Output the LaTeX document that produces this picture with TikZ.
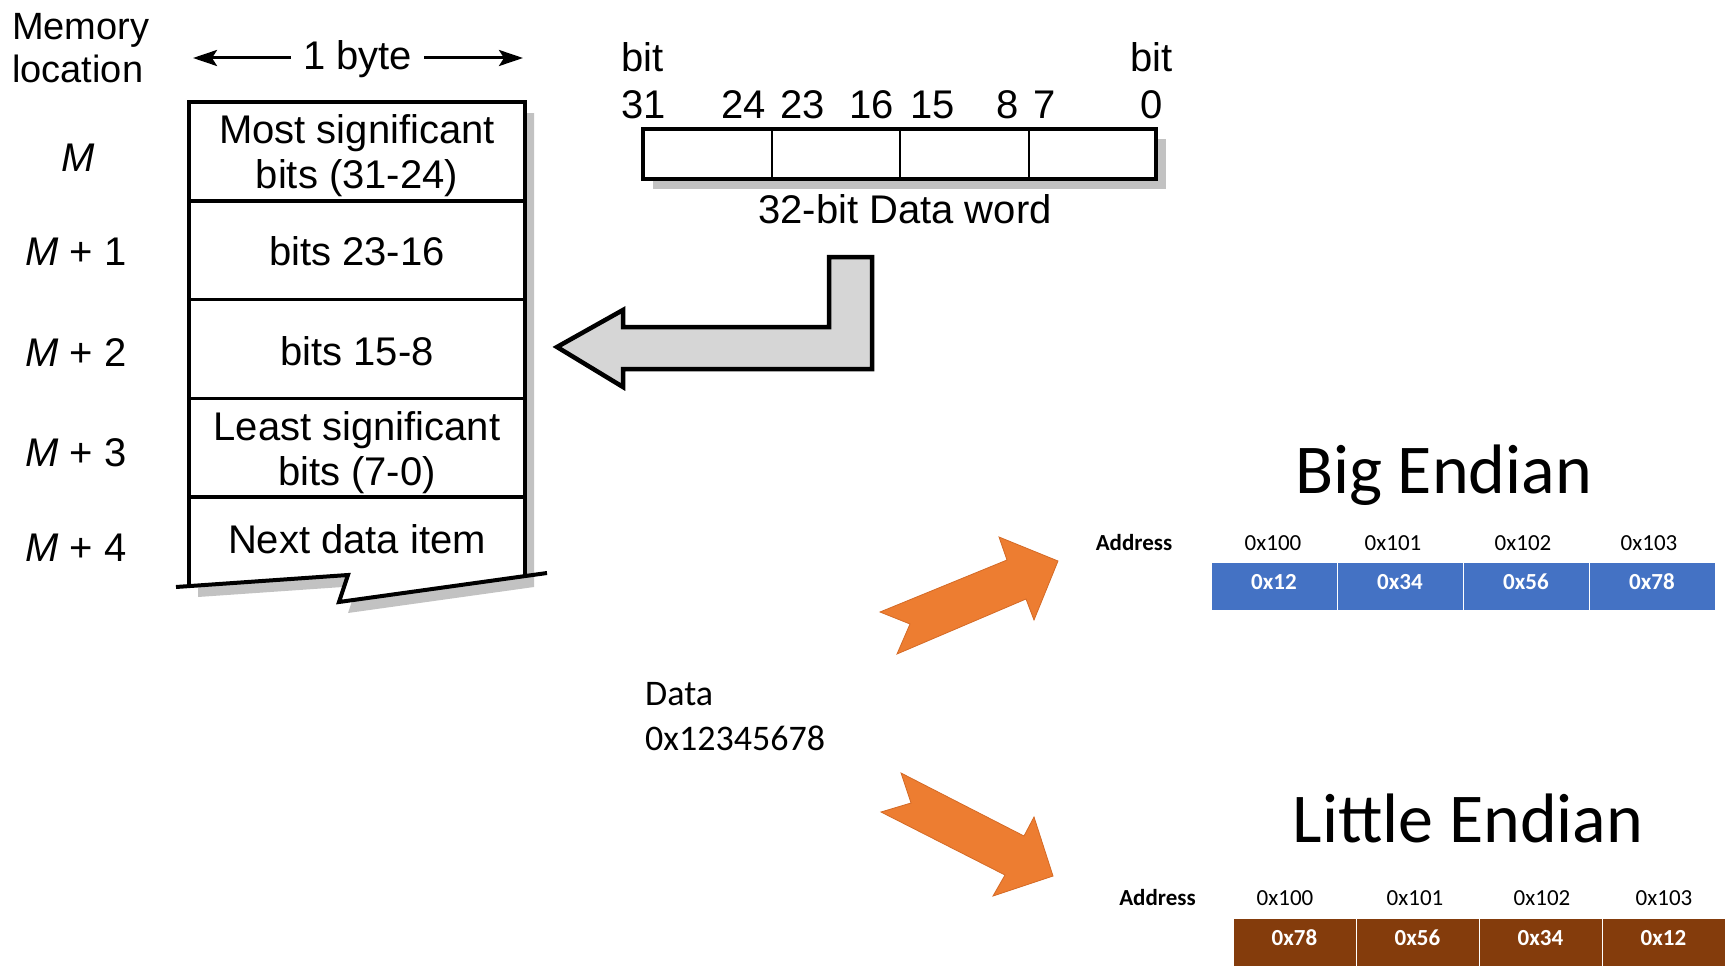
\documentclass[tikz,border=0pt]{standalone}
\usepackage{fontspec}
\newfontfamily\bookfont{Liberation Sans}
\newfontfamily\slidefont{Carlito}
\usetikzlibrary{arrows.meta}

\definecolor{ofcorange}{HTML}{ED7D31}
\definecolor{ofcorangeedge}{HTML}{D46A26}
\definecolor{ofcblue}{HTML}{4472C4}
\definecolor{ofcbrown}{HTML}{843C0C}
\definecolor{arrowgray}{HTML}{D6D6D6}
\definecolor{shadowgray}{HTML}{C2C2C2}

\begin{document}
\begin{tikzpicture}[x=1pt,y=-1pt,
  book/.style={font=\bookfont\fontsize{40}{48}\selectfont, inner sep=0pt},
  booksmall/.style={font=\bookfont\fontsize{38}{44}\selectfont, inner sep=0pt},
  outline/.style={line width=4pt, line join=miter},
  rowline/.style={line width=3.5pt},
  dimarrow/.style={line width=3pt, -{Stealth[length=24pt,width=16pt,inset=5pt]}},
  title/.style={font=\slidefont\fontsize{70}{80}\selectfont, inner sep=0pt, anchor=base},
  datatext/.style={font=\slidefont\fontsize{36}{44}\selectfont, inner sep=0pt, anchor=base west},
  addr/.style={font=\slidefont\fontsize{23}{28}\selectfont, inner sep=0pt, anchor=base},
  addrhead/.style={font=\slidefont\bfseries\fontsize{23}{28}\selectfont, inner sep=0pt, anchor=base},
  cell/.style={font=\slidefont\bfseries\fontsize{23}{28}\selectfont, text=white,
    draw=white, line width=1pt, minimum height=48pt, inner sep=0pt,
    text height=15pt, text depth=8pt},
  becell/.style={cell, fill=ofcblue, minimum width=126pt},
  lecell/.style={cell, fill=ofcbrown, minimum width=123pt},
  bigarrow/.style={fill=ofcorange, draw=ofcorangeedge, line width=0.8pt, line join=miter},
]
\useasboundingbox (0,0) rectangle (1727,966);

% ---------- memory column ----------
\node[booksmall, anchor=base west] (memA) at (12,40) {Memory};
\node[booksmall, anchor=base west] (memB) at (12,83) {location};

\node[book, anchor=base, inner xsep=12pt] (byte) at (357.5,70) {1 byte};
\coordinate (byteLtip) at (193,58);
\coordinate (byteRtip) at (523,58);
\draw[dimarrow] (byte.west |- byteLtip) -- (byteLtip);
\draw[dimarrow] (byte.east |- byteRtip) -- (byteRtip);

% box with torn bottom edge and its drop shadow
\fill[shadowgray, shift={(9,11)}]
  (189,102) -- (525,102) -- (525,576) -- (339,602) -- (348,575) -- (189,586) -- cycle;
\fill[white]
  (189,102) -- (525,102) -- (525,576) -- (339,602) -- (348,575) -- (189,586) -- cycle;
\draw[rowline] (189,200.8) -- (525,200.8);
\draw[rowline] (189,299.6) -- (525,299.6);
\draw[rowline] (189,398.4) -- (525,398.4);
\draw[rowline] (189,497.2) -- (525,497.2);
\draw[outline] (189,586) -- (189,102) -- (525,102) -- (525,576);
\draw[outline] (176,587) -- (348,575) -- (339,602) -- (547,573);

\node[book, anchor=base] (r1a) at (357,143) {Most significant};
\node[book, anchor=base] (r1b) at (357,188) {bits (31-24)};
\node[book, anchor=base] (r2)  at (357,265) {bits 23-16};
\node[book, anchor=base] (r3)  at (357,365) {bits 15-8};
\node[book, anchor=base] (r4a) at (357,440) {Least significant};
\node[book, anchor=base] (r4b) at (357,485) {bits (7-0)};
\node[book, anchor=base] (r5)  at (357,553) {Next data item};

\node[book, anchor=base] (locM)  at (78,171) {\itshape M};
\node[book, anchor=base west] (locM1) at (25,265) {{\itshape M} + 1};
\node[book, anchor=base west] (locM2) at (25,366) {{\itshape M} + 2};
\node[book, anchor=base west] (locM3) at (25,466) {{\itshape M} + 3};
\node[book, anchor=base west] (locM4) at (25,561) {{\itshape M} + 4};

% ---------- 32-bit data word ----------
\node[book, anchor=base west] (bitL) at (621,72) {bit};
\node[book, anchor=base east] (bitR) at (1173,72) {bit};
\node[book, anchor=base west] (b31) at (621,118) {31};
\node[book, anchor=base east] (b24) at (766,118) {24};
\node[book, anchor=base west] (b23) at (780,118) {23};
\node[book, anchor=base east] (b16) at (894,118) {16};
\node[book, anchor=base west] (b15) at (910,118) {15};
\node[book, anchor=base east] (b8)  at (1019,118) {8};
\node[book, anchor=base west] (b7)  at (1033,118) {7};
\node[book, anchor=base east] (b0)  at (1163,118) {0};

\fill[shadowgray] (653,139) rectangle (1166,189);
\draw[outline, fill=white] (643,129) rectangle (1156,179);
\draw[line width=2pt] (772,129) -- (772,179);
\draw[line width=2pt] (900,129) -- (900,179);
\draw[line width=2pt] (1029,129) -- (1029,179);
\node[book, anchor=base] (wordcap) at (905,223) {32-bit Data word};

% gray bent arrow into the memory column
\filldraw[fill=arrowgray, line width=4.5pt, line join=miter]
  (557,347) -- (623,310) -- (623,327) -- (829,327) -- (829,257) -- (872,257)
  -- (872,369) -- (623,369) -- (623,387) -- cycle;

% ---------- data value and byte orders ----------
\node[datatext] (dataA) at (645,705) {Data};
\node[datatext] (dataB) at (645,750) {0x12345678};

\fill[bigarrow] (880,612) -- (1007,560) -- (999,537) -- (1058,561) -- (1034,620)
  -- (1026,599) -- (897,654) -- (910,624) -- cycle;
\fill[bigarrow] (901,773) -- (1024,836) -- (1034,817) -- (1053,876) -- (993,896)
  -- (1005,875) -- (881,812) -- (911,803) -- cycle;

% big endian
\node[title] (bigT) at (1443.5,493) {Big Endian};
\node[addrhead] (beAddr) at (1134,550.5) {Address};
\node[addr] (beA0) at (1273,550.5) {0x100};
\node[addr] (beA1) at (1393,550.5) {0x101};
\node[addr] (beA2) at (1523,550.5) {0x102};
\node[addr] (beA3) at (1649,550.5) {0x103};
\node[becell] (be0) at (1274,586) {0x12};
\node[becell] (be1) at (1400,586) {0x34};
\node[becell] (be2) at (1526,586) {0x56};
\node[becell] (be3) at (1652,586) {0x78};

% little endian
\node[title] (litT) at (1468,842) {Little Endian};
\node[addrhead] (leAddr) at (1157.5,905.5) {Address};
\node[addr] (leA0) at (1285,905.5) {0x100};
\node[addr] (leA1) at (1415,905.5) {0x101};
\node[addr] (leA2) at (1542,905.5) {0x102};
\node[addr] (leA3) at (1664,905.5) {0x103};
\node[lecell] (le0) at (1294.5,942) {0x78};
\node[lecell] (le1) at (1417.5,942) {0x56};
\node[lecell] (le2) at (1540.5,942) {0x34};
\node[lecell] (le3) at (1663.5,942) {0x12};
\end{tikzpicture}
\end{document}
